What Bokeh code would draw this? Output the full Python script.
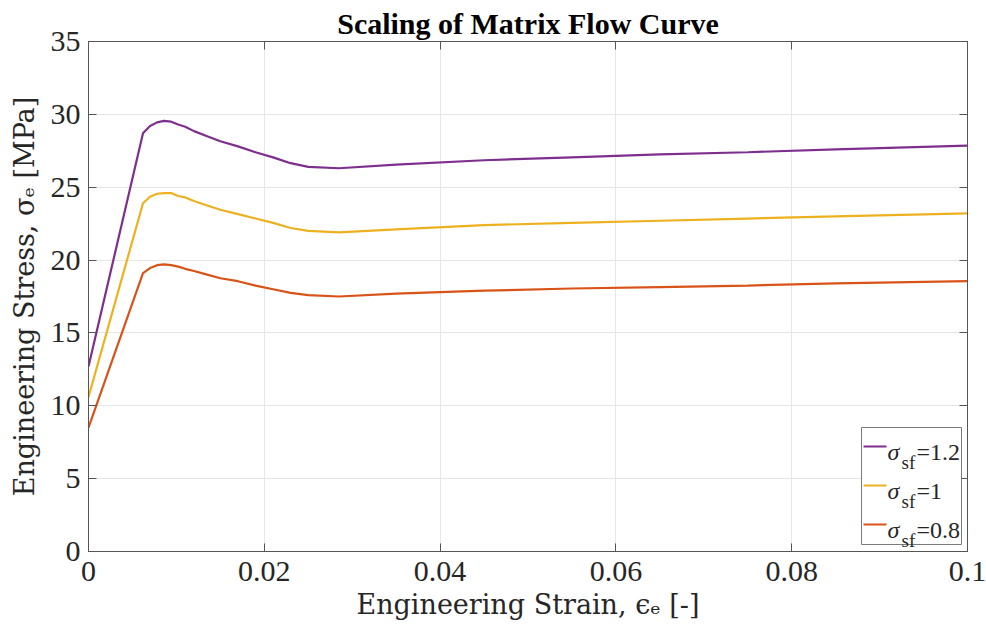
from bokeh.plotting import figure
from bokeh.models import (Range1d, FixedTicker, LinearAxis, CustomJSTickFormatter,
                          BoxAnnotation, PolyAnnotation, Label)
from bokeh.embed import file_html
from bokeh.resources import INLINE

# ---- data ----
strain = [0.0, 0.0062, 0.0070, 0.0078, 0.0086, 0.0094, 0.0102, 0.0110, 0.0120, 0.0135,
          0.0150, 0.0170, 0.0190, 0.0210, 0.0230, 0.0250, 0.0285, 0.035, 0.045, 0.055,
          0.065, 0.075, 0.085, 0.100]
stress_sf_1_2 = [12.7, 28.7, 29.2, 29.45, 29.55, 29.5, 29.3, 29.15, 28.85, 28.5,
                 28.15, 27.8, 27.4, 27.05, 26.65, 26.4, 26.3, 26.55, 26.85, 27.05,
                 27.25, 27.4, 27.6, 27.85]
stress_sf_1_0 = [10.6, 23.9, 24.35, 24.55, 24.6, 24.6, 24.4, 24.3, 24.05, 23.75,
                 23.45, 23.15, 22.85, 22.55, 22.2, 22.0, 21.9, 22.1, 22.4, 22.55,
                 22.7, 22.85, 23.0, 23.2]
stress_sf_0_8 = [8.5, 19.1, 19.45, 19.65, 19.7, 19.65, 19.55, 19.4, 19.25, 19.0,
                 18.75, 18.55, 18.25, 18.0, 17.75, 17.6, 17.5, 17.7, 17.9, 18.05,
                 18.15, 18.25, 18.4, 18.55]
series_values = ["1.2", "1", "0.8"]
series_colors = ["#7E2F8E", "#EDB120", "#D95319"]
x_ticks = [0, 0.02, 0.04, 0.06, 0.08, 0.1]
y_ticks = [0, 5, 10, 15, 20, 25, 30, 35]
title_text = "Scaling of Matrix Flow Curve"

FONT = "Liberation Serif"
LABEL_FONT = "DejaVu Serif"
AX = "#555555"
TXT = "#262626"

p = figure(width=986, height=631, output_backend="svg", toolbar_location=None,
           x_range=Range1d(0, 0.1), y_range=Range1d(0, 35),
           min_border_left=88, min_border_right=19, min_border_top=41, min_border_bottom=80,
           title=title_text)
p.title.text_font = FONT
p.title.text_font_size = "30px"
p.title.text_font_style = "bold"
p.title.align = "center"
p.title.vertical_align = "top"
p.title.text_color = "black"
p.title.standoff = 0
p.title.offset = 0

p.outline_line_color = AX
p.outline_line_width = 1
p.background_fill_color = "white"
p.border_fill_color = "white"

for ax in (p.xaxis[0], p.yaxis[0]):
    ax.axis_line_color = AX
    ax.major_tick_line_color = AX
    ax.major_tick_in = 8
    ax.major_tick_out = 0
    ax.minor_tick_line_color = None
    ax.major_label_text_font = FONT
    ax.major_label_text_font_size = "30px"
    ax.major_label_text_color = TXT
    ax.axis_label_text_font = LABEL_FONT
    ax.axis_label_text_font_size = "27px"
    ax.axis_label_text_font_style = "normal"
    ax.axis_label_text_color = TXT

p.xaxis[0].ticker = FixedTicker(ticks=x_ticks)
p.yaxis[0].ticker = FixedTicker(ticks=y_ticks)
p.xaxis[0].formatter = CustomJSTickFormatter(code="return String(tick);")
p.yaxis[0].formatter = CustomJSTickFormatter(code="return String(tick);")
p.xaxis[0].major_label_standoff = 10
p.yaxis[0].major_label_standoff = 8
p.xaxis[0].axis_label = "Engineering Strain, ϵₑ [-]"
p.yaxis[0].axis_label = "Engineering Stress, σₑ [MPa]"
p.xaxis[0].axis_label_standoff = 5
p.yaxis[0].axis_label_standoff = 8

# mirrored tick marks on top and right (no labels)
for loc, ticks in (("right", y_ticks), ("above", x_ticks)):
    a = LinearAxis(ticker=FixedTicker(ticks=ticks), axis_line_color=AX,
                   major_tick_line_color=AX, major_tick_in=8, major_tick_out=0,
                   minor_tick_line_color=None,
                   formatter=CustomJSTickFormatter(code="return '';"),
                   major_label_standoff=0)
    p.add_layout(a, loc)

p.xgrid.ticker = FixedTicker(ticks=x_ticks)
p.ygrid.ticker = FixedTicker(ticks=y_ticks)
p.grid.grid_line_color = "#e6e6e6"
p.grid.grid_line_width = 1

for ys, c in zip((stress_sf_1_2, stress_sf_1_0, stress_sf_0_8), series_colors):
    p.line(strain, ys, line_color=c, line_width=2.2)

# ---- legend (screen units, relative to the frame) ----
p.add_layout(BoxAnnotation(left=773, right=873, bottom=7, top=124,
                           left_units="screen", right_units="screen",
                           bottom_units="screen", top_units="screen",
                           fill_color="white", fill_alpha=1,
                           line_color="#7a7a7a", line_alpha=1, line_width=1, level="overlay"))
for i, (val, c) in enumerate(zip(series_values, series_colors)):
    yl = 105 - 39 * i
    p.add_layout(PolyAnnotation(xs=[775, 798], ys=[yl, yl], xs_units="screen", ys_units="screen",
                                line_color=c, line_alpha=1, line_width=2, fill_alpha=0,
                                level="overlay"))
    p.add_layout(Label(x=799, y=yl - 5, x_units="screen", y_units="screen", text="σ",
                       text_font=FONT, text_font_size="24px", text_font_style="italic",
                       text_color=TXT, text_baseline="alphabetic", level="overlay"))
    p.add_layout(Label(x=813, y=yl - 16, x_units="screen", y_units="screen", text="sf",
                       text_font=FONT, text_font_size="19px",
                       text_color=TXT, text_baseline="alphabetic", level="overlay"))
    p.add_layout(Label(x=828, y=yl - 5, x_units="screen", y_units="screen", text="=" + val,
                       text_font=FONT, text_font_size="24px",
                       text_color=TXT, text_baseline="alphabetic", level="overlay"))

open("out.html", "w").write(file_html(p, INLINE))
